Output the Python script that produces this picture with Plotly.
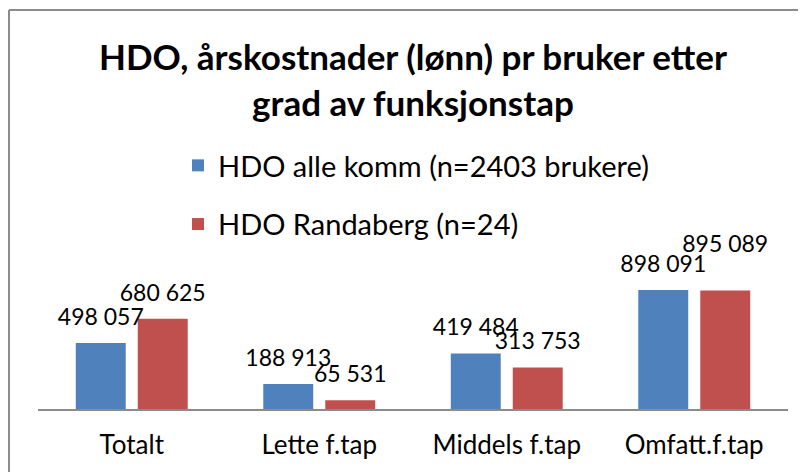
import plotly.graph_objects as go

categories = ["Totalt", "Lette f.tap", "Middels f.tap", "Omfatt.f.tap"]
series_names = ["HDO alle komm (n=2403 brukere)", "HDO Randaberg (n=24)"]
values_alle = [498057, 188913, 419484, 898091]
values_randaberg = [680625, 65531, 313753, 895089]

# page body has an 8px margin, so the figure is drawn 8px smaller
W, H = 798, 464
ML, MR, MT, MB = 30, 18, 222, 63
plot_w = W - ML - MR
plot_h = H - MT - MB
YMAX = 1351000

FONT = "Lato, Calibri, Carlito, sans-serif"
BLUE = "#4F81BD"
RED = "#C0504D"


def fmt(v):
    return f"{v:,}".replace(",", " ")


fig = go.Figure()
for i, (name, vals, col) in enumerate(
    [(series_names[0], values_alle, BLUE), (series_names[1], values_randaberg, RED)]
):
    fig.add_trace(go.Bar(
        x=categories, y=vals, name=name, marker=dict(color=col, line=dict(width=0)),
        offsetgroup=str(i), alignmentgroup="a", legendgroup=str(i),
        hoverinfo="skip",
    ))

label_sizes = [[18, 18, 18, 18], [18, 18, 18, 50]]
for i, vals in enumerate([values_alle, values_randaberg]):
    fig.add_trace(go.Scatter(
        x=categories, y=vals, mode="markers+text",
        text=[fmt(v) for v in vals], textposition="top center",
        textfont=dict(family=FONT, size=23, color="#000000"),
        marker=dict(size=label_sizes[i], opacity=0),
        offsetgroup=str(i), alignmentgroup="a",
        showlegend=False, hoverinfo="skip", cliponaxis=False,
    ))


def px_x(x):
    return (x - ML) / plot_w


def px_y(y):
    return (H - MB - y) / plot_h


fig.update_layout(
    template="none",
    width=W, height=H,
    margin=dict(l=ML, r=MR, t=MT, b=MB, pad=0, autoexpand=False),
    paper_bgcolor="white", plot_bgcolor="white",
    barmode="group", bargap=0.339, bargroupgap=0.194,
    scattermode="group", scattergap=0.339,
    font=dict(family=FONT, color="#000000"),
    title=dict(
        text="<b>HDO, årskostnader (lønn) pr bruker etter<br>grad av funksjonstap</b>",
        x=px_x(405), xanchor="center", xref="paper",
        y=1 - 62 / H, yanchor="top",
        font=dict(family=FONT, size=35, color="#000000"),
    ),
    legend=dict(
        x=px_x(170), xanchor="left", y=px_y(132), yanchor="top",
        font=dict(family=FONT, size=29, color="#000000"),
        tracegroupgap=18, itemclick=False, bgcolor="rgba(0,0,0,0)",
    ),
    xaxis=dict(
        showline=True, linecolor="#8c8c8c", linewidth=2, ticks="",
        showgrid=False, zeroline=False, fixedrange=True, automargin=False,
        tickfont=dict(family=FONT, size=26, color="#000000"),
        ticklabelstandoff=12,
    ),
    yaxis=dict(
        range=[0, YMAX], visible=False, showgrid=False, zeroline=False,
        fixedrange=True, automargin=False,
    ),
    shapes=[
        dict(type="line", xref="paper", yref="paper",
             x0=px_x(1), x1=px_x(W + 5), y0=px_y(2), y1=px_y(2),
             line=dict(color="#8c8c8c", width=2)),
        dict(type="line", xref="paper", yref="paper",
             x0=px_x(1), x1=px_x(1), y0=px_y(2), y1=px_y(H + 5),
             line=dict(color="#8c8c8c", width=2)),
    ],
)

fig.write_html("out.html")
